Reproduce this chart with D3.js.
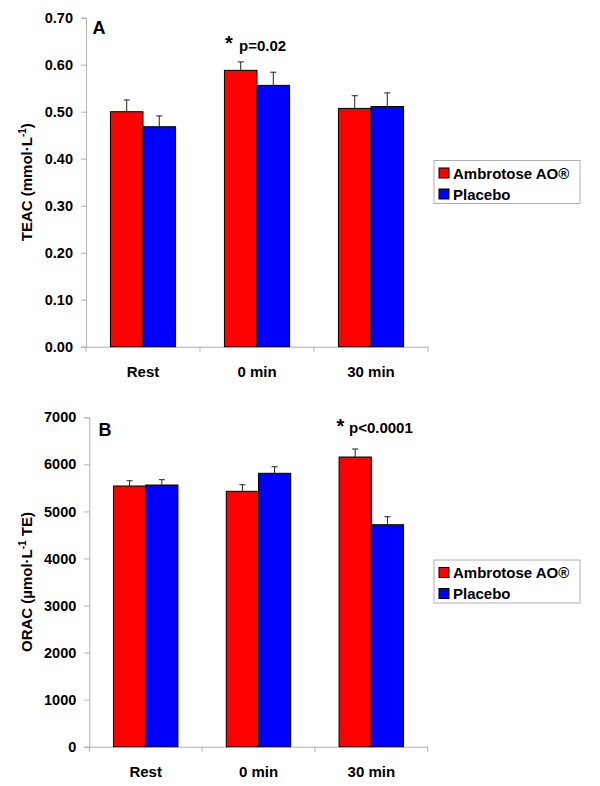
<!DOCTYPE html>
<html><head><meta charset="utf-8">
<script src="https://cdn.jsdelivr.net/npm/d3@7"></script>
<style>body{margin:0;background:#fff}svg{display:block}text{font-family:"Liberation Sans",Arial,sans-serif;font-weight:bold;fill:#000}</style>
</head><body>
<svg id="c" width="600" height="786"></svg>
<script>
const categories = ["Rest", "0 min", "30 min"];
const seriesNames = ["Ambrotose AO®", "Placebo"];
const seriesColors = ["#ff0000", "#0000ff"];
const teacAmbrotose = [0.500, 0.588, 0.507];
const teacAmbrotoseErr = [0.025, 0.018, 0.027];
const teacPlacebo = [0.468, 0.556, 0.511];
const teacPlaceboErr = [0.023, 0.028, 0.029];
const teacTicks = [0, 0.1, 0.2, 0.3, 0.4, 0.5, 0.6, 0.7];
const oracAmbrotose = [5540, 5427, 6156];
const oracAmbrotoseErr = [112, 140, 170];
const oracPlacebo = [5561, 5810, 4717];
const oracPlaceboErr = [113, 140, 170];
const oracTicks = [0, 1000, 2000, 3000, 4000, 5000, 6000, 7000];

const svg = d3.select("#c");

function panel(o) {
  const g = svg.append("g");
  const x = d3.scaleBand().domain(categories).range([o.left, o.right]).padding(0);
  const xs = d3.scaleBand().domain([0, 1]).range([0, x.bandwidth()]).paddingInner(0).paddingOuter(0.75);
  const y = d3.scaleLinear().domain([0, o.max]).range([o.bottom, o.top]);
  const series = [o.a, o.b], errs = [o.ea, o.eb];

  // axes
  const ya = g.append("g").attr("transform", `translate(${o.left},0)`)
    .call(d3.axisLeft(y).tickValues(o.ticks).tickFormat(o.fmt).tickSize(5).tickPadding(8));
  ya.select(".domain").attr("stroke", "#b0b0b0");
  ya.selectAll(".tick line").attr("stroke", "#b0b0b0");
  ya.selectAll(".tick text").style("font-size", "14.5px").attr("fill", "#000");

  const xa = g.append("g").attr("transform", `translate(0,${o.bottom})`)
    .call(d3.axisBottom(x).tickSize(0).tickPadding(20));
  xa.select(".domain").attr("stroke", "#b0b0b0");
  xa.selectAll(".tick text").style("font-size", "15px").attr("fill", "#000");
  const bounds = [o.left].concat(categories.map(c => x(c) + x.bandwidth()));
  g.selectAll(".xt").data(bounds).join("line")
    .attr("x1", d => d).attr("x2", d => d).attr("y1", o.bottom).attr("y2", o.bottom + 5)
    .attr("stroke", "#b0b0b0");

  // bars
  series.forEach((vals, si) => {
    g.append("g").selectAll("rect").data(vals).join("rect")
      .attr("x", (d, i) => x(categories[i]) + xs(si))
      .attr("width", xs.bandwidth())
      .attr("y", d => y(d))
      .attr("height", d => o.bottom - y(d))
      .attr("fill", seriesColors[si]).attr("stroke", "#000").attr("stroke-width", 1);
    const eg = g.append("g").attr("stroke", "#222").attr("stroke-width", 1);
    vals.forEach((d, i) => {
      const cx = x(categories[i]) + xs(si) + xs.bandwidth() / 2;
      eg.append("line").attr("x1", cx).attr("x2", cx).attr("y1", y(d)).attr("y2", y(d + errs[si][i]));
      eg.append("line").attr("x1", cx - 3).attr("x2", cx + 3).attr("y1", y(d + errs[si][i])).attr("y2", y(d + errs[si][i]));
    });
  });

  // y title
  const t = g.append("text").attr("transform", `translate(${o.titleX},${(o.top + o.bottom) / 2}) rotate(-90)`)
    .attr("text-anchor", "middle").style("font-size", "15px");
  t.append("tspan").text(o.title1);
  t.append("tspan").attr("dy", -6).style("font-size", "10px").text("-1");
  t.append("tspan").attr("dy", 6).text(o.title2);

  // panel letter
  g.append("text").attr("x", o.letterX).attr("y", o.letterY).style("font-size", "18px").text(o.letter);
  // significance
  g.append("text").attr("x", o.starX).attr("y", o.starY).style("font-size", "20px").text("*");
  g.append("text").attr("x", o.pX).attr("y", o.pY).style("font-size", "15px").text(o.p);

  // legend
  const lg = g.append("g");
  lg.append("rect").attr("x", 434).attr("y", o.legY).attr("width", 146).attr("height", 43)
    .attr("fill", "#fff").attr("stroke", "#b0b0b0");
  seriesNames.forEach((n, i) => {
    const cy = o.legY + 12.5 + i * 21;
    lg.append("rect").attr("x", 439).attr("y", cy - 5).attr("width", 10).attr("height", 10)
      .attr("fill", seriesColors[i]).attr("stroke", "#000");
    lg.append("text").attr("x", 453).attr("y", cy + 5.5).style("font-size", "15px").text(n);
  });
}

panel({left: 86, right: 428, top: 17.7, bottom: 346.7, max: 0.7, ticks: teacTicks, fmt: d3.format(".2f"),
  a: teacAmbrotose, b: teacPlacebo, ea: teacAmbrotoseErr, eb: teacPlaceboErr,
  title1: "TEAC (mmol·L", title2: ")", titleX: 32, letter: "A", letterX: 92.5, letterY: 34.3,
  starX: 225, starY: 50, pX: 239, pY: 50.7, p: "p=0.02", legY: 160.5});

panel({left: 89.3, right: 427.7, top: 417.3, bottom: 746.7, max: 7000, ticks: oracTicks, fmt: d3.format("d"),
  a: oracAmbrotose, b: oracPlacebo, ea: oracAmbrotoseErr, eb: oracPlaceboErr,
  title1: "ORAC (µmol·L", title2: " TE)", titleX: 32, letter: "B", letterX: 98.5, letterY: 435.7,
  starX: 336.5, starY: 433, pX: 349, pY: 433.3, p: "p<0.0001", legY: 560});
</script>
</body></html>
